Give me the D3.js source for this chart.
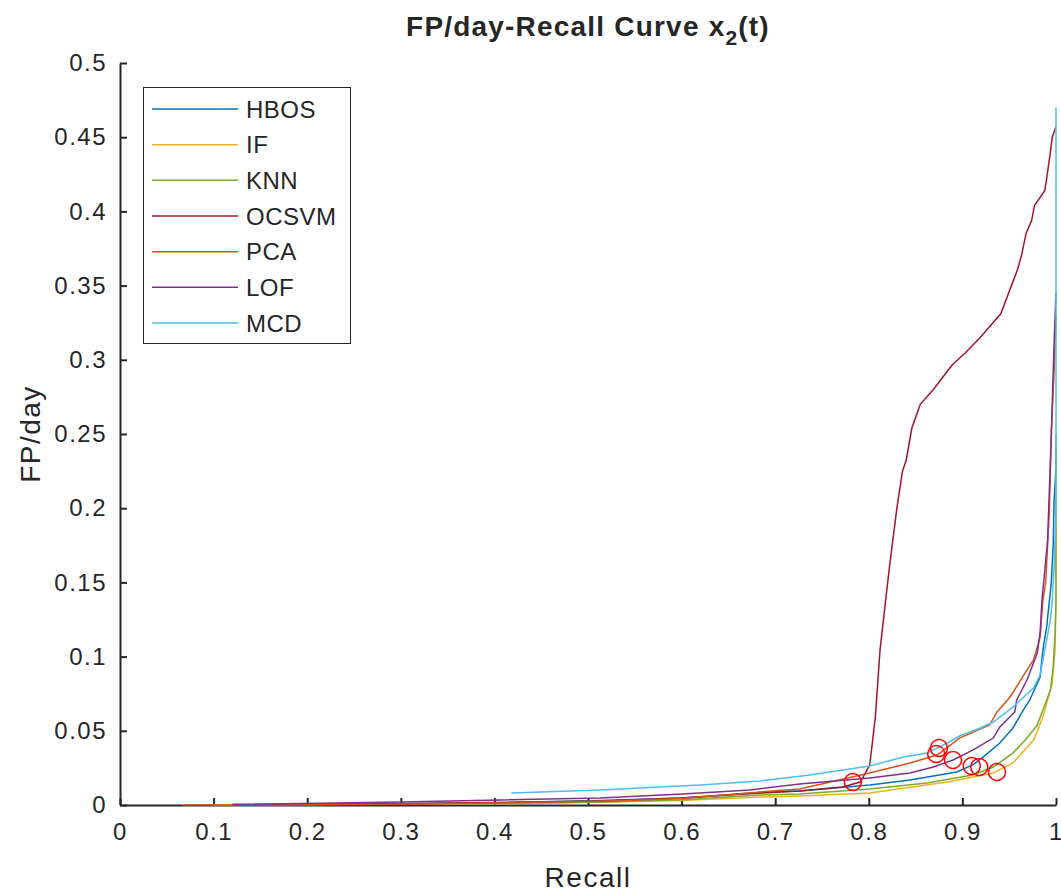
<!DOCTYPE html>
<html lang="en">
<head>
  <meta charset="UTF-8">
  <title>FP/day-Recall Curve</title>
  <script src="https://d3js.org/d3.v7.min.js"></script>
  <style>
    body { margin: 0; background: #fff; }
    text { font-family: 'Liberation Sans', Arial, sans-serif; fill: #262626; }
  </style>
</head>
<body>
  <div id="chart"></div>
  <script>
    // series names in legend order
    const names = ["HBOS", "IF", "KNN", "OCSVM", "PCA", "LOF", "MCD"];
    const colors = ["#0072BD", "#EDB120", "#77AC30", "#A2142F", "#D95319", "#7E2F8E", "#4DBEEE"];

    // [recall, fp/day] pairs
    const hbos = [[0.2,0.0003],[0.4,0.0015],[0.513,0.003],[0.6,0.0047],[0.684,0.0085],[0.726,0.0095],[0.801,0.0135],[0.844,0.0168],[0.894,0.0222],[0.911,0.027],[0.922,0.0323],[0.94,0.0418],[0.954,0.0519],[0.965,0.064],[0.972,0.0708],[0.983,0.0863],[0.986,0.1044],[0.99,0.12],[0.993,0.138],[0.995,0.15],[0.997,0.175],[0.998,0.205],[1.0,0.228],[1.0,0.24]];
    const iforest = [[0.1,0.0002],[0.4,0.0008],[0.513,0.0018],[0.6,0.003],[0.684,0.0054],[0.726,0.006],[0.801,0.0081],[0.884,0.0155],[0.933,0.0216],[0.954,0.0283],[0.976,0.0438],[0.986,0.0593],[0.996,0.0822],[0.999,0.1044],[1.0,0.14],[1.0,0.187]];
    const knn = [[0.15,0.0002],[0.4,0.001],[0.513,0.002],[0.6,0.0035],[0.684,0.0067],[0.726,0.0074],[0.801,0.0108],[0.862,0.0148],[0.911,0.0202],[0.933,0.0256],[0.954,0.035],[0.969,0.0451],[0.98,0.0539],[0.986,0.064],[0.994,0.0775],[0.997,0.093],[0.999,0.1159],[1.0,0.138],[1.0,0.25]];
    const ocsvm = [[0.12,0.0003],[0.3,0.0008],[0.513,0.0027],[0.6,0.0047],[0.684,0.0081],[0.726,0.0094],[0.772,0.0121],[0.791,0.0155],[0.801,0.027],[0.807,0.0593],[0.812,0.1044],[0.818,0.138],[0.822,0.16],[0.83,0.2],[0.836,0.225],[0.84,0.2325],[0.846,0.254],[0.855,0.27],[0.869,0.28],[0.889,0.2965],[0.903,0.3046],[0.919,0.315],[0.941,0.331],[0.959,0.361],[0.963,0.37],[0.968,0.385],[0.974,0.394],[0.977,0.404],[0.988,0.414],[0.99,0.422],[0.994,0.44],[0.996,0.45],[1.0,0.457]];
    const pca = [[0.067,0],[0.12,0],[0.3,0.0005],[0.513,0.0025],[0.6,0.0044],[0.684,0.0088],[0.726,0.0108],[0.801,0.0216],[0.844,0.0283],[0.873,0.0337],[0.897,0.0451],[0.929,0.0539],[0.937,0.0627],[0.951,0.0728],[0.969,0.091],[0.976,0.0977],[0.983,0.113],[0.986,0.138],[0.989,0.15],[0.993,0.2],[0.995,0.25],[0.998,0.293],[1.0,0.33]];
    const lof = [[0.12,0.0003],[0.299,0.002],[0.406,0.0034],[0.513,0.0047],[0.601,0.0074],[0.673,0.0101],[0.726,0.0142],[0.801,0.0182],[0.844,0.0216],[0.869,0.0256],[0.89,0.0303],[0.911,0.037],[0.933,0.0451],[0.94,0.0526],[0.956,0.0627],[0.958,0.0708],[0.969,0.0842],[0.98,0.1024],[0.983,0.1159],[0.985,0.138],[0.991,0.178],[0.995,0.25],[0.998,0.313],[1.0,0.345]];
    const mcd = [[0.418,0.0081],[0.513,0.0101],[0.62,0.0135],[0.684,0.0162],[0.737,0.0202],[0.801,0.0263],[0.837,0.0323],[0.862,0.035],[0.884,0.0418],[0.897,0.0465],[0.919,0.0519],[0.933,0.0559],[0.954,0.066],[0.976,0.0788],[0.983,0.0876],[0.988,0.1044],[0.994,0.1247],[0.996,0.138],[0.998,0.16],[1.0,0.2],[1.0,0.47]];

    // chosen operating points (red circles)
    const markers = [[0.783,0.0155],[0.872,0.0344],[0.875,0.0384],[0.89,0.0303],[0.91,0.0263],[0.918,0.0256],[0.937,0.0222]];

    const xTicks = d3.range(0, 1.0001, 0.1);
    const yTicks = d3.range(0, 0.5001, 0.05);

    const series = [hbos, iforest, knn, ocsvm, pca, lof, mcd];

    const W = 1061, H = 893;
    const svg = d3.select("#chart").append("svg")
      .attr("width", W).attr("height", H);

    const x = d3.scaleLinear().domain([0, 1]).range([120, 1056]);
    const y = d3.scaleLinear().domain([0, 0.5]).range([805, 63]);

    const fmt = d => (Math.round(d * 100) / 100).toString();

    // axes (ticks pointing inward like matlab)
    const xAxis = svg.append("g")
      .attr("transform", `translate(0,${y(0)})`)
      .call(d3.axisBottom(x).tickValues(xTicks).tickFormat(fmt).tickSizeInner(-7).tickSizeOuter(0).tickPadding(18));
    const yAxis = svg.append("g")
      .attr("transform", `translate(${x(0)},0)`)
      .call(d3.axisLeft(y).tickValues(yTicks).tickFormat(fmt).tickSizeInner(-7).tickSizeOuter(0).tickPadding(13));

    [xAxis, yAxis].forEach(g => {
      g.select(".domain").attr("stroke", "#262626").attr("stroke-width", 2);
      g.selectAll(".tick line").attr("stroke", "#262626").attr("stroke-width", 2);
      g.selectAll(".tick text")
        .attr("font-family", "'Liberation Sans', Arial, sans-serif")
        .attr("font-size", 24)
        .attr("letter-spacing", 1.5)
        .attr("fill", "#262626");
    });
    xAxis.selectAll(".tick text").attr("dy", "0.71em");

    const line = d3.line().x(d => x(d[0])).y(d => y(d[1]));

    svg.append("g").selectAll("path")
      .data(series)
      .join("path")
      .attr("d", line)
      .attr("fill", "none")
      .attr("stroke", (d, i) => colors[i])
      .attr("stroke-width", 1.5);

    svg.append("g").selectAll("circle")
      .data(markers)
      .join("circle")
      .attr("cx", d => x(d[0]))
      .attr("cy", d => y(d[1]))
      .attr("r", 8.5)
      .attr("fill", "none")
      .attr("stroke", "#FF0000")
      .attr("stroke-width", 1.5);

    // title
    const title = svg.append("text")
      .attr("x", 588).attr("y", 36)
      .attr("text-anchor", "middle")
      .attr("font-size", 28)
      .attr("letter-spacing", 1.2)
      .attr("font-weight", "bold")
      .attr("fill", "#000");
    title.append("tspan").text("FP/day-Recall Curve x");
    title.append("tspan").attr("dy", 9).attr("font-size", 21).text("2");
    title.append("tspan").attr("dy", -9).text("(t)");

    svg.append("text")
      .attr("x", 588).attr("y", 887)
      .attr("text-anchor", "middle")
      .attr("font-size", 28)
      .attr("letter-spacing", 1.5)
      .text("Recall");

    svg.append("text")
      .attr("transform", `translate(40,${(y(0) + y(0.5)) / 2}) rotate(-90)`)
      .attr("text-anchor", "middle")
      .attr("font-size", 28)
      .attr("letter-spacing", 1.5)
      .text("FP/day");

    // legend
    const legend = svg.append("g");
    legend.append("rect")
      .attr("x", 143.5).attr("y", 87.5)
      .attr("width", 207).attr("height", 256)
      .attr("fill", "#fff")
      .attr("stroke", "#262626")
      .attr("stroke-width", 1);

    const rowY = d3.scaleLinear().domain([0, names.length - 1]).range([109, 323]);
    const rows = legend.selectAll("g.row")
      .data(names)
      .join("g")
      .attr("transform", (d, i) => `translate(0,${rowY(i)})`);
    rows.append("line")
      .attr("x1", 152).attr("x2", 238)
      .attr("stroke", (d, i) => colors[i])
      .attr("stroke-width", 1.5);
    rows.append("text")
      .attr("x", 246).attr("dy", "0.36em")
      .attr("font-size", 24)
      .attr("letter-spacing", 0.5)
      .attr("fill", "#000")
      .text(d => d);
  </script>
</body>
</html>
